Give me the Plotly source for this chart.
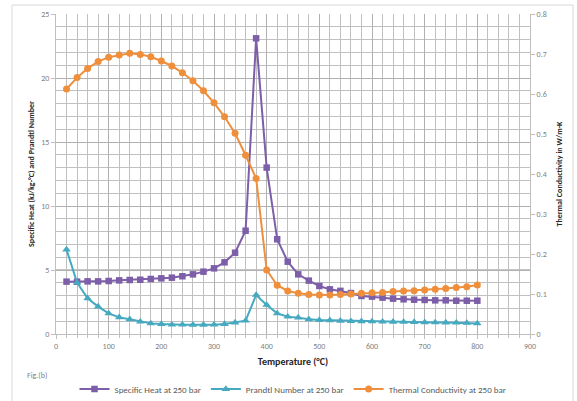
import plotly.graph_objects as go

# Temperature (°C) at 250 bar
temperature = [20, 40, 60, 80, 100, 120, 140, 160, 180, 200,
               220, 240, 260, 280, 300, 320, 340, 360, 380, 400,
               420, 440, 460, 480, 500, 520, 540, 560, 580, 600,
               620, 640, 660, 680, 700, 720, 740, 760, 780, 800]

# Specific heat, kJ/kg-°C
specific_heat = [4.09, 4.09, 4.11, 4.11, 4.14, 4.19, 4.22, 4.24, 4.30, 4.35,
                 4.40, 4.51, 4.66, 4.87, 5.13, 5.60, 6.35, 8.07, 23.1, 13.0,
                 7.40, 5.65, 4.66, 4.17, 3.75, 3.49, 3.37, 3.20, 2.97, 2.92,
                 2.84, 2.76, 2.71, 2.68, 2.66, 2.63, 2.63, 2.60, 2.60, 2.60]

# Prandtl number
prandtl = [6.60, 4.01, 2.79, 2.14, 1.61, 1.30, 1.15, 0.96, 0.83, 0.78,
           0.73, 0.73, 0.72, 0.72, 0.73, 0.78, 0.89, 1.04, 3.05, 2.27,
           1.61, 1.35, 1.28, 1.15, 1.09, 1.07, 1.03, 1.00, 0.99, 0.98,
           0.96, 0.95, 0.94, 0.93, 0.91, 0.90, 0.89, 0.88, 0.86, 0.83]

# Thermal conductivity, W/m-K
conductivity = [0.6125, 0.641, 0.664, 0.681, 0.692, 0.6975, 0.702, 0.699, 0.693, 0.6825,
                0.670, 0.653, 0.633, 0.608, 0.578, 0.543, 0.502, 0.447, 0.389, 0.160,
                0.122, 0.1075, 0.102, 0.099, 0.0975, 0.0975, 0.099, 0.100, 0.1017, 0.1033,
                0.104, 0.106, 0.1075, 0.108, 0.110, 0.112, 0.114, 0.116, 0.118, 0.1225]

PURPLE = "#7d5ea8"
TEAL = "#45a9c0"
ORANGE = "#ef8f3c"
FONT = "Carlito, Lato, 'Liberation Sans', sans-serif"
TICK_GRAY = "#7f7f7f"
GRID = "#b0b0b0"
GRID_MINOR = "#c0c0c0"

fig = go.Figure()

fig.add_trace(go.Scatter(
    x=temperature, y=specific_heat, name="Specific Heat at 250 bar",
    mode="lines+markers", line=dict(color=PURPLE, width=2),
    marker=dict(symbol="square", size=6.5, color=PURPLE), yaxis="y"))

fig.add_trace(go.Scatter(
    x=temperature, y=prandtl, name="Prandtl Number at 250 bar",
    mode="lines+markers", line=dict(color=TEAL, width=2),
    marker=dict(symbol="triangle-up", size=7.5, color=TEAL), yaxis="y"))

fig.add_trace(go.Scatter(
    x=temperature, y=conductivity, name="Thermal Conductivity at 250 bar",
    mode="lines+markers", line=dict(color=ORANGE, width=2),
    marker=dict(symbol="circle", size=7, color=ORANGE), yaxis="y2"))

fig.update_layout(
    width=577, height=401,
    margin=dict(l=56, r=47, t=14, b=67, autoexpand=False),
    paper_bgcolor="white", plot_bgcolor="white",
    font=dict(family=FONT, size=8, color=TICK_GRAY),
    showlegend=True,
    legend=dict(orientation="h", x=0.5, xanchor="center", y=-0.172, yanchor="middle",
                font=dict(family=FONT, size=9, color="#595959"),
                itemwidth=30, tracegroupgap=0, bgcolor="rgba(0,0,0,0)"),
    xaxis=dict(
        range=[0, 900], dtick=100, tick0=0, automargin=False,
        showgrid=True, gridcolor=GRID, gridwidth=1,
        minor=dict(dtick=20, showgrid=True, gridcolor=GRID_MINOR, gridwidth=1,
                   ticks="outside", ticklen=3, tickcolor="#bfbfbf"),
        ticks="outside", ticklen=4, tickcolor="#bfbfbf",
        showline=True, linecolor="#bfbfbf", linewidth=1,
        zeroline=False, tickfont=dict(size=8, color=TICK_GRAY),
        title=dict(text="<b>Temperature (°C)</b>", standoff=8,
                   font=dict(family=FONT, size=10, color="#262626")),
    ),
    yaxis=dict(
        range=[0, 25], dtick=5, tick0=0, automargin=False,
        showgrid=True, gridcolor=GRID, gridwidth=1,
        minor=dict(dtick=1, showgrid=True, gridcolor=GRID_MINOR, gridwidth=1),
        ticks="outside", ticklen=4, tickcolor="#bfbfbf",
        showline=True, linecolor="#bfbfbf", linewidth=1,
        zeroline=False, tickfont=dict(size=8, color=TICK_GRAY),
        title=dict(text="<b>Specific Heat (kJ/kg-°C) and Prandtl Number</b>", standoff=5,
                   font=dict(family=FONT, size=8, color="#262626")),
    ),
    yaxis2=dict(
        range=[0, 0.8], dtick=0.1, tick0=0, overlaying="y", side="right",
        showgrid=False, zeroline=False, automargin=False,
        ticks="outside", ticklen=4, tickcolor="#bfbfbf",
        showline=True, linecolor="#bfbfbf", linewidth=1,
        tickfont=dict(size=8, color=TICK_GRAY),
        title=dict(text="<b>Thermal Conductivity in W/m-K</b>", standoff=10,
                   font=dict(family=FONT, size=8, color="#262626")),
    ),
)

# darker reference line at 5 on the left scale, beneath the data
fig.add_hline(y=5, line=dict(color="#8c8c8c", width=1), layer="below")

# chart-area frame
fig.add_shape(type="rect", xref="paper", yref="paper",
              x0=-44 / 474, x1=517 / 474, y0=-0.25, y1=329 / 320,
              line=dict(color="#d9d9d9", width=1), fillcolor="rgba(0,0,0,0)")

fig.add_annotation(text="Fig.(b)", xref="paper", yref="paper",
                   x=-31 / 474, y=-41 / 320, xanchor="left", yanchor="middle",
                   showarrow=False, font=dict(family=FONT, size=8, color="#7f7f7f"))

fig.write_html("out.html")
